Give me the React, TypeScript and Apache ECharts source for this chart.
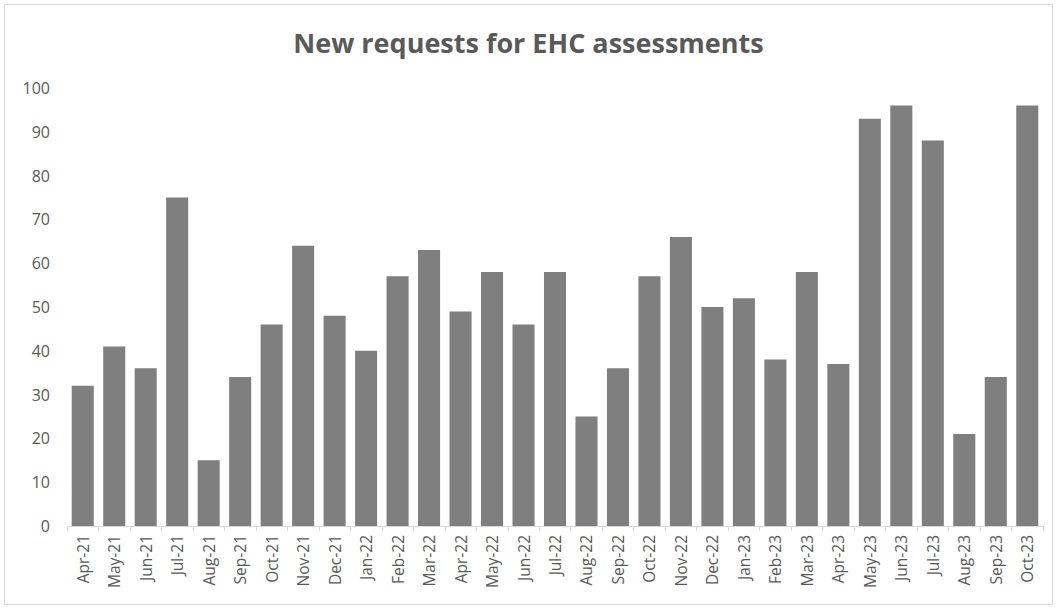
import React, { useEffect, useRef } from "react";
import * as echarts from "echarts";

const categories = [
  "Apr-21", "May-21", "Jun-21", "Jul-21", "Aug-21", "Sep-21", "Oct-21", "Nov-21", "Dec-21",
  "Jan-22", "Feb-22", "Mar-22", "Apr-22", "May-22", "Jun-22", "Jul-22", "Aug-22", "Sep-22",
  "Oct-22", "Nov-22", "Dec-22", "Jan-23", "Feb-23", "Mar-23", "Apr-23", "May-23", "Jun-23",
  "Jul-23", "Aug-23", "Sep-23", "Oct-23",
];
const requests = [
  32, 41, 36, 75, 15, 34, 46, 64, 48,
  40, 57, 63, 49, 58, 46, 58, 25, 36,
  57, 66, 50, 52, 38, 58, 37, 93, 96,
  88, 21, 34, 96,
];
const titleText = "New requests for EHC assessments";

export default function App() {
  const ref = useRef<HTMLDivElement>(null);
  useEffect(() => {
    if (!ref.current) return;
    const chart = echarts.init(ref.current, undefined, { renderer: "svg" });
    chart.setOption({
      animation: false,
      backgroundColor: "#ffffff",
      title: {
        text: titleText,
        left: "center",
        top: 24,
        textStyle: {
          fontFamily: "Open Sans",
          fontWeight: "bold",
          fontSize: 27,
          color: "#595959",
        },
      },
      graphic: [
        {
          type: "rect",
          shape: { x: 4.5, y: 4.5, width: 1048, height: 600 },
          style: { fill: "none", stroke: "#d9d9d9", lineWidth: 1 },
          silent: true,
        },
      ],
      grid: { left: 67, right: 14, top: 88, bottom: 83, containLabel: false },
      xAxis: {
        type: "category",
        data: categories,
        axisLine: { show: true, lineStyle: { color: "#d9d9d9", width: 1 } },
        axisTick: { show: true, alignWithLabel: false, length: 5, lineStyle: { color: "#d9d9d9" } },
        axisLabel: {
          rotate: 90,
          interval: 0,
          margin: 9,
          color: "#595959",
          fontFamily: "Open Sans",
          fontSize: 15.5,
        },
      },
      yAxis: {
        type: "value",
        min: 0,
        max: 100,
        interval: 10,
        splitLine: { show: false },
        axisLine: { show: false },
        axisTick: { show: false },
        axisLabel: {
          color: "#595959",
          fontFamily: "Open Sans",
          fontSize: 16,
          margin: 17,
        },
      },
      series: [
        {
          type: "bar",
          data: requests,
          barCategoryGap: "30%",
          itemStyle: { color: "#7f7f7f" },
        },
      ],
    });
    return () => chart.dispose();
  }, []);
  return (
    <div
      ref={ref}
      style={{ position: "fixed", left: 0, top: 0, width: 1057, height: 609 }}
    />
  );
}
